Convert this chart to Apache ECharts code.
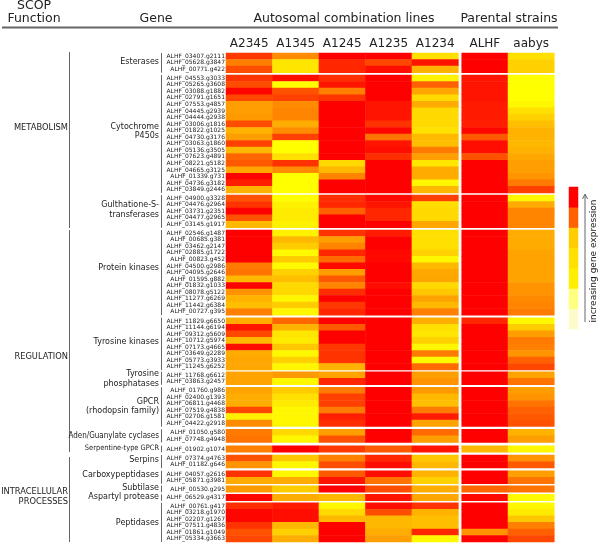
<!DOCTYPE html>
<html>
<head>
<meta charset="utf-8">
<title>Gene expression heat map</title>
<script src="https://cdn.jsdelivr.net/npm/echarts@6/dist/echarts.min.js"></script>
<style>
html, body { margin: 0; padding: 0; background: #fff; }
#main { width: 600px; height: 543px; }
</style>
</head>
<body>
<div id="main"></div>
<script>
var lineNames = ['A2345', 'A1345', 'A1245', 'A1235', 'A1234'];
var strainNames = ['ALHF', 'aabys'];

var familyNames = [
    ['Esterases'], ['Cytochrome', 'P450s'], ['Gulthatione-S-', 'transferases'], ['Protein kinases'],
    ['Tyrosine kinases'], ['Tyrosine', 'phosphatases'], ['GPCR', '(rhodopsin family)'],
    ['Aden/Guanylate cyclases'], ['Serpentine-type GPCR'], ['Serpins'], ['Carboxypeptidases'],
    ['Subtilase'], ['Aspartyl protease'], ['Peptidases']
];
var familySizes = [3, 18, 5, 13, 8, 2, 6, 2, 1, 2, 2, 1, 1, 6];

var geneNames = [
    '03407.g2111', '05628.g3847', '00771.g422',
    '04553.g3033', '05265.g3608', '03088.g1882', '02791.g1651', '07553.g4857', '04445.g2939',
    '04444.g2938', '03006.g1816', '01822.g1025', '04730.g3176', '03063.g1860', '05136.g3505',
    '07623.g4891', '08221.g5182', '04665.g3125', '01339.g731', '04736.g3182', '03849.g2446',
    '04900.g3328', '04476.g2964', '03731.g2351', '04477.g2965', '03145.g1917',
    '02546.g1487', '00685.g381', '03462.g2147', '02885.g1722', '00823.g452', '04500.g2986',
    '04095.g2646', '01595.g882', '01832.g1033', '08078.g5122', '11277.g6269', '11442.g6384', '00727.g395',
    '11829.g6650', '11144.g6194', '09312.g5609', '10712.g5974', '07173.g4665', '03649.g2289',
    '05773.g3933', '11245.g6252',
    '11768.g6612', '03863.g2457',
    '01760.g986', '02400.g1393', '06811.g4468', '07519.g4838', '02706.g1581', '04422.g2918',
    '01050.g580', '07748.g4948',
    '01902.g1074',
    '07374.g4763', '01182.g646',
    '04057.g2616', '05871.g3981',
    '00530.g295',
    '06529.g4317',
    '00761.g417', '03218.g1970', '02207.g1267', '07511.g4836', '01861.g1049', '05334.g3663'
];

// expression level per gene, 0 = yellow, 100 = red
var a2345 = [78, 50, 70,
    80, 70, 98, 72, 38, 38, 40, 70, 30, 38, 75, 28, 60, 65, 35, 100, 88, 30,
    68, 80, 100, 68, 28,
    100, 100, 100, 100, 100, 52, 55, 28, 100, 42, 30, 25, 50,
    33, 92, 72, 27, 95, 33, 35, 35,
    36, 36,
    36, 32, 32, 72, 6, 45,
    52, 55, 50, 68, 42, 80, 33, 40, 98,
    82, 98, 98, 80, 68, 72];
var a1345 = [45, 10, 10,
    95, 0, 68, 75, 45, 48, 48, 32, 45, 75, 0, 0, 12, 80, 45, 0, 0, 0,
    0, 5, 8, 8, 5,
    5, 28, 20, 2, 20, 2, 18, 25, 15, 15, 3, 20, 3,
    60, 30, 10, 8, 22, 3, 18, 3,
    40, 3,
    20, 12, 8, 3, 3, 3,
    15, 3, 100, 22, 3, 3, 33, 20, 32,
    90, 95, 95, 28, 18, 32];
var a1245 = [100, 85, 85,
    82, 92, 50, 80, 100, 100, 100, 100, 100, 100, 100, 100, 100, 15, 28, 48, 100, 100,
    82, 85, 62, 100, 100,
    80, 38, 48, 85, 58, 97, 38, 65, 48, 82, 100, 78, 85,
    100, 65, 100, 100, 78, 80, 80, 30,
    36, 85,
    52, 75, 75, 52, 88, 82,
    38, 68, 78, 50, 70, 65, 92, 100, 28,
    3, 15, 28, 100, 100, 100];
var a1235 = [100, 72, 95,
    100, 100, 100, 100, 92, 92, 92, 80, 98, 55, 92, 95, 82, 100, 100, 100, 100, 100,
    97, 92, 85, 85, 100,
    90, 100, 100, 97, 97, 100, 100, 100, 95, 100, 100, 100, 100,
    100, 100, 100, 100, 100, 100, 100, 100,
    100, 100,
    100, 100, 100, 100, 100, 100,
    100, 100, 65, 85, 95, 95, 55, 70, 92,
    95, 70, 28, 28, 32, 38];
var a1234 = [12, 92, 30,
    5, 62, 35, 15, 33, 15, 15, 15, 12, 27, 25, 52, 38, 10, 33, 33, 3, 28,
    75, 13, 15, 15, 35,
    12, 12, 12, 18, 3, 28, 34, 35, 15, 22, 36, 28, 50,
    32, 12, 10, 18, 3, 52, 2, 58,
    38, 42,
    40, 28, 25, 52, 90, 36,
    58, 38, 92, 22, 28, 30, 18, 32, 35,
    80, 30, 25, 25, 85, 2];
var alhf = [100, 100, 100,
    92, 92, 92, 92, 90, 90, 90, 88, 98, 65, 95, 95, 68, 100, 100, 100, 100, 100,
    100, 100, 100, 100, 100,
    100, 100, 100, 100, 100, 100, 100, 100, 100, 100, 100, 100, 100,
    85, 100, 100, 100, 100, 100, 100, 100,
    100, 100,
    100, 100, 100, 100, 100, 100,
    100, 100, 28, 100, 100, 100, 100, 60, 97,
    100, 100, 100, 100, 42, 100];
var aabys = [12, 18, 18,
    0, 0, 0, 0, 3, 12, 18, 25, 30, 30, 28, 30, 35, 38, 38, 42, 52, 75,
    3, 33, 48, 48, 48,
    33, 33, 33, 36, 36, 36, 36, 36, 42, 42, 46, 48, 52,
    3, 20, 38, 52, 50, 42, 62, 72,
    36, 55,
    38, 42, 55, 62, 65, 68,
    30, 38, 3, 42, 65, 38, 55, 55, 2,
    3, 8, 22, 50, 62, 72];

var legendColors = ['#fffbc8', '#ffff80', '#ffee00', '#ffe000', '#ffcc00', '#ff6000', '#ff0000'];

var lineValues = [a2345, a1345, a1245, a1235, a1234];
var strainValues = [alhf, aabys];

// layout of the blocks on the page
var rowHeight = 6.55;
var blockTops = [53, 75, 195, 230, 317.7, 371.7, 387.3, 429.3, 445.7, 455, 470.7, 485.7, 494.3, 502.7];
var labelFont = '8px "DejaVu Sans", sans-serif';
var groupFont = '8.3px "DejaVu Sans", sans-serif';
var squeezedFont = '8px "DejaVu Sans Condensed", "DejaVu Sans", sans-serif';
var serpentineFont = '7.4px "DejaVu Sans Condensed", "DejaVu Sans", sans-serif';
var headerFont = '12.5px "DejaVu Sans", sans-serif';
var textColor = '#222';
var ruleColor = '#666';

function cells(columns, start, count) {
    var out = [];
    columns.forEach(function (values, x) {
        for (var i = 0; i < count; i++) {
            out.push([x, i, values[start + i]]);
        }
    });
    return out;
}

function text(str, x, y, align, font) {
    return {
        type: 'text',
        silent: true,
        style: {
            text: str, x: x, y: y, fill: textColor, font: font,
            textAlign: align, textVerticalAlign: 'middle'
        }
    };
}

function line(x1, y1, x2, y2, color, width) {
    return {
        type: 'line',
        silent: true,
        shape: {x1: x1, y1: y1, x2: x2, y2: y2},
        style: {stroke: color, lineWidth: width}
    };
}

var grids = [], xAxes = [], yAxes = [], series = [], heatIndexes = [];
var start = 0;

function addBlock(columns, names, left, width, top, height, rowNames, showHeader) {
    var index = grids.length;
    grids.push({left: left, top: top, width: width, height: height});
    xAxes.push({
        gridIndex: index, type: 'category', position: 'top', data: names,
        axisLine: {show: false}, axisTick: {show: false}, splitLine: {show: false},
        axisLabel: {
            show: showHeader, margin: 3, color: textColor, interval: 0,
            fontFamily: 'DejaVu Sans', fontSize: 12
        }
    });
    yAxes.push({
        gridIndex: index, type: 'category', inverse: true, data: rowNames,
        axisLine: {show: false}, axisTick: {show: false}, splitLine: {show: false},
        axisLabel: {
            show: left < 300, margin: 1, color: textColor, interval: 0,
            fontFamily: 'DejaVu Sans', fontSize: 6,
            formatter: function (name) { return 'ALHF_' + name; }
        }
    });
    heatIndexes.push(series.length);
    series.push({
        type: 'heatmap', xAxisIndex: index, yAxisIndex: index, silent: true,
        data: cells(columns, start, rowNames.length)
    });
}

familySizes.forEach(function (size, f) {
    var top = blockTops[f], height = size * rowHeight;
    var rows = geneNames.slice(start, start + size);
    addBlock(lineValues, lineNames, 226, 232.4, top, height, rows, f === 0);
    addBlock(strainValues, strainNames, 461.7, 92.6, top, height, rows, f === 0);
    start += size;
});

// colour key on the right
var keyIndex = grids.length;
grids.push({left: 569, top: 187, width: 9, height: 142});
xAxes.push({gridIndex: keyIndex, type: 'category', data: ['key'], show: false});
yAxes.push({gridIndex: keyIndex, type: 'category', data: legendColors, show: false});
series.push({
    type: 'heatmap', xAxisIndex: keyIndex, yAxisIndex: keyIndex, silent: true,
    data: legendColors.map(function (color, i) {
        return {value: [0, i, i], itemStyle: {color: color}};
    })
});

// headers and rules
var elements = [
    text('SCOP', 34, 6, 'center', headerFont),
    text('Function', 34, 19, 'center', headerFont),
    text('Gene', 156, 19, 'center', headerFont),
    text('Autosomal combination lines', 344, 19, 'center', headerFont),
    text('Parental strains', 509, 19, 'center', headerFont),
    line(2, 27.5, 558, 27.5, ruleColor, 2),
    text('METABOLISM', 68, 128, 'right', groupFont),
    line(69.5, 52, 69.5, 228, ruleColor, 1),
    text('REGULATION', 68, 357, 'right', groupFont),
    line(69.5, 230, 69.5, 452, ruleColor, 1),
    text('INTRACELLULAR', 68, 492, 'right', groupFont),
    text('PROCESSES', 68, 502, 'right', groupFont),
    line(69.5, 457, 69.5, 542, ruleColor, 1),
    line(585, 322, 585, 195, ruleColor, 1),
    {
        type: 'polyline', silent: true,
        shape: {points: [[582.5, 199], [585, 194], [587.5, 199]]},
        style: {stroke: ruleColor, lineWidth: 1, fill: 'none'}
    },
    {
        type: 'text', silent: true, x: 594, y: 261, rotation: Math.PI / 2,
        style: {
            text: 'increasing gene expression', fill: textColor,
            font: '9px "DejaVu Sans", sans-serif', textAlign: 'center', textVerticalAlign: 'middle'
        }
    }
];

// family names sit beside a short rule, not always at the block centre
var familyLabelY = [62, 131.5, 210, 268, 342, 379, 406.5, 436, 448, 460, 475, 488, 497, 523];
familyNames.forEach(function (parts, f) {
    var font = labelFont;
    if (parts[0].indexOf('Aden') === 0) {
        font = squeezedFont;
    } else if (parts[0].indexOf('Serpentine') === 0) {
        font = serpentineFont;
    }
    parts.forEach(function (part, i) {
        var y = familyLabelY[f] + (i - (parts.length - 1) / 2) * 9.5;
        elements.push(text(part, 159, y, 'right', font));
    });
    var x = 161.5;
    elements.push(line(x, blockTops[f], x, blockTops[f] + familySizes[f] * rowHeight, ruleColor, 1));
});

var myChart = echarts.init(document.getElementById('main'), null, {renderer: 'canvas'});
myChart.setOption({
    animation: false,
    backgroundColor: '#fff',
    grid: grids,
    xAxis: xAxes,
    yAxis: yAxes,
    visualMap: {
        show: false, min: 0, max: 100, dimension: 2,
        seriesIndex: heatIndexes,
        inRange: {color: ['#ffff00', '#ff0000']}
    },
    series: series,
    graphic: {elements: elements}
});
</script>
</body>
</html>
